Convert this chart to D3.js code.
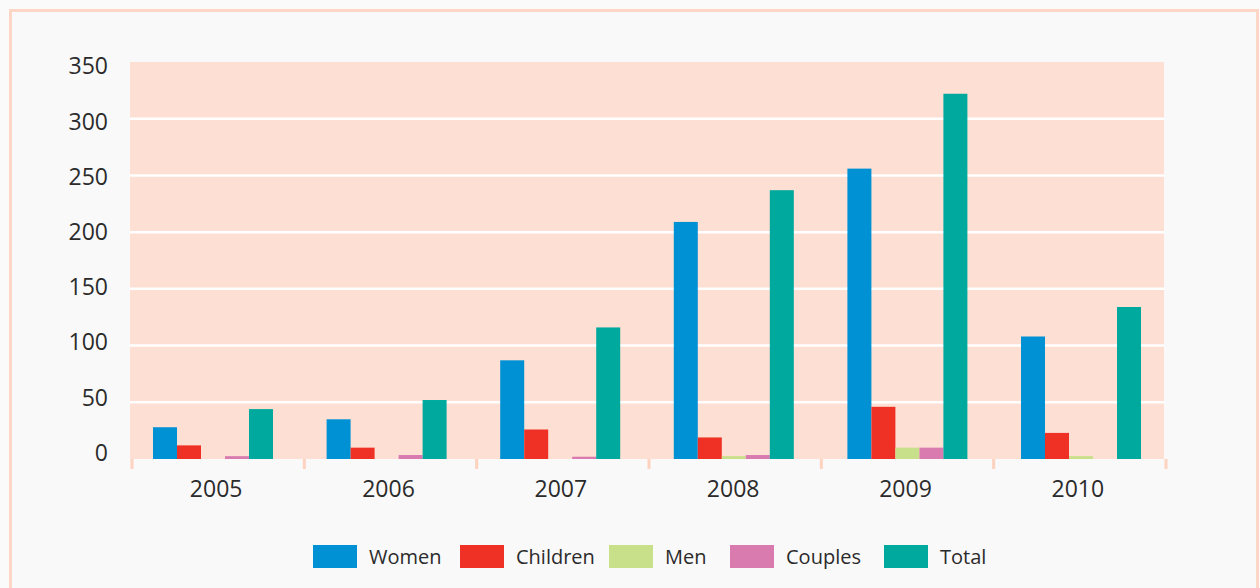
<!DOCTYPE html>
<html>
<head>
<meta charset="utf-8">
<script src="https://cdn.jsdelivr.net/npm/d3@7"></script>
<style>
  body { margin: 0; background: #fafafa; }
  svg { display: block; font-family: 'Open Sans', sans-serif; }
</style>
</head>
<body>
<svg id="chart" width="1260" height="588"></svg>
<script>
const years = ['2005', '2006', '2007', '2008', '2009', '2010']
const seriesNames = ['Women', 'Children', 'Men', 'Couples', 'Total']
const women = [28, 35, 87, 209, 256, 108]
const children = [12, 10, 26, 19, 46, 23]
const men = [0, 0, 0, 2.5, 10, 2.5]
const couples = [2.5, 3.5, 2, 3.5, 10, 0]
const total = [44, 52, 116, 237, 322, 134]
const yTicks = [0, 50, 100, 150, 200, 250, 300, 350]

const colors = ['#0091d5', '#ee3124', '#c9e08a', '#da7bb0', '#00a99d']
const margins = { top: 62, right: 96, bottom: 129, left: 130 }
const W = 1260, H = 588
const font = "'Open Sans', sans-serif"

const values = [women, children, men, couples, total]
const rows = years.map((y, i) => ({ year: y, vals: values.map(v => v[i]) }))

const svg = d3.select('#chart')
const width = W - margins.left - margins.right
const height = H - margins.top - margins.bottom

// frame
svg.append('rect').attr('x', 10.5).attr('y', 10.5).attr('width', W - 13).attr('height', H)
  .attr('fill', '#f9f9f9').attr('stroke', '#fdd6c5').attr('stroke-width', 3)

const g = svg.append('g').attr('transform', `translate(${margins.left},${margins.top})`)

const x = d3.scaleBand().domain(years).range([0, width]).padding(0)
// bar groups sit on a slightly wider pitch than the category ticks
const xBars = d3.scaleBand().domain(years).range([23, 23 + 6 * 173.6]).padding(0)
const groupW = 120
const xInner = d3.scaleBand().domain(seriesNames).range([0, groupW]).padding(0)
const y = d3.scaleLinear().domain([0, 350]).range([height, 0])
const yLabel = d3.scaleLinear().domain([0, 350]).range([height - 6, 4.5])

g.append('rect').attr('width', width).attr('height', height).attr('fill', '#fddfd3')

g.selectAll('.grid').data(yTicks.filter(d => d > 0 && d < 350))
  .enter().append('line')
  .attr('x1', 0).attr('x2', width)
  .attr('y1', d => y(d)).attr('y2', d => y(d))
  .attr('stroke', '#fff').attr('stroke-width', 2.5)

// category boundary ticks
g.selectAll('.btick').data(d3.range(years.length + 1))
  .enter().append('line')
  .attr('x1', i => i * x.step() + 2).attr('x2', i => i * x.step() + 2)
  .attr('y1', height).attr('y2', height + 10)
  .attr('stroke', '#fdd3c0').attr('stroke-width', 3)

const groups = g.selectAll('.grp').data(rows).enter().append('g')
  .attr('transform', d => `translate(${xBars(d.year)},0)`)

groups.selectAll('rect').data(d => d.vals.map((v, i) => ({ name: seriesNames[i], v, i })))
  .enter().append('rect')
  .attr('x', d => xInner(d.name))
  .attr('width', xInner.bandwidth())
  .attr('y', d => y(d.v))
  .attr('height', d => height - y(d.v))
  .attr('fill', d => colors[d.i])

const yAxis = g.append('g').attr('transform', 'translate(-22,0)')
  .call(d3.axisLeft(yLabel).tickValues(yTicks).tickSize(0).tickPadding(0))
yAxis.attr('font-family', font)
yAxis.select('.domain').remove()
yAxis.selectAll('text').style('font-size', '23px').attr('fill', '#2b2b2b')

const xAxis = g.append('g').attr('transform', `translate(0,${height})`)
  .call(d3.axisBottom(x).tickSize(0).tickPadding(22))
xAxis.attr('font-family', font)
xAxis.select('.domain').remove()
xAxis.selectAll('text').style('font-size', '23px').attr('fill', '#2b2b2b')

// legend
const legendX = [313, 460, 609, 730, 884]
const legend = svg.append('g').attr('transform', 'translate(0,545)')
const items = legend.selectAll('g').data(seriesNames).enter().append('g')
  .attr('transform', (d, i) => `translate(${legendX[i]},0)`)
items.append('rect').attr('width', 44).attr('height', 23).attr('fill', (d, i) => colors[i])
items.append('text').attr('x', 56).attr('y', 18.5)
  .style('font-size', '20px').attr('fill', '#2b2b2b').text(d => d)
</script>
</body>
</html>
